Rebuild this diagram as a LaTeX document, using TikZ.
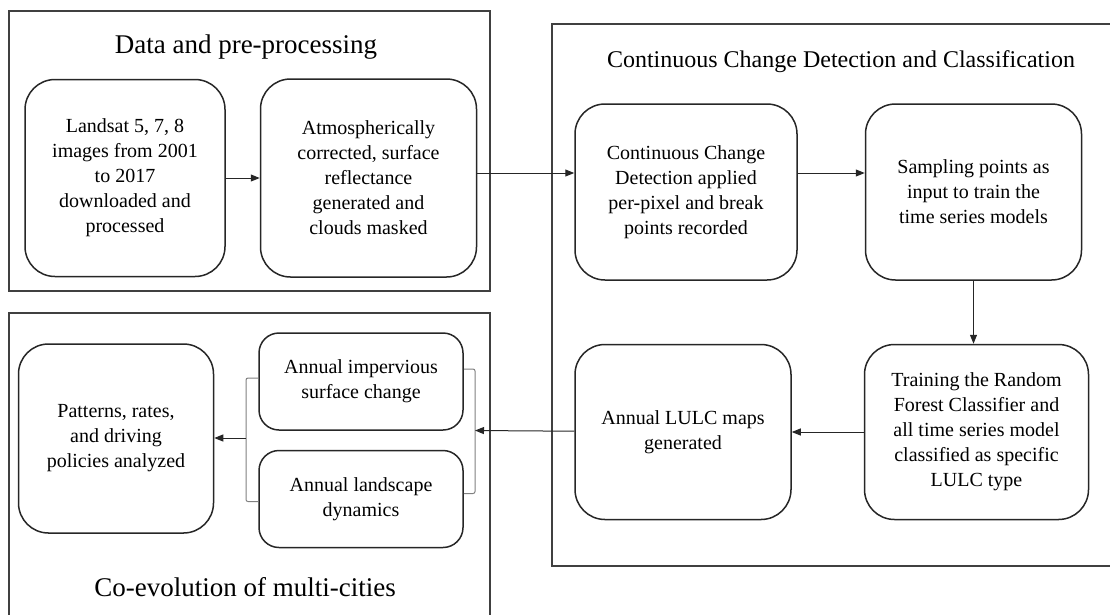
\documentclass[tikz,border=0pt]{standalone}
\usepackage{fontspec}
\setmainfont{Liberation Serif}
\usetikzlibrary{positioning,arrows.meta}

\tikzset{
box/.style={draw=black!85,line width=1.5pt,rounded corners=30pt,align=center,inner sep=0pt,font=\fontsize{20}{25}\selectfont},
sbox/.style={box,rounded corners=20pt},
ttl/.style={font=\fontsize{27}{32}\selectfont},
panel/.style={draw=black!75,line width=1.5pt},
arr/.style={draw=black!85,line width=1pt,-{Triangle[length=9pt,width=7pt]}},
brk/.style={draw=black!50,line width=1pt,rounded corners=2pt}
}

\begin{document}
\begin{tikzpicture}[x=1pt,y=1pt]
\useasboundingbox (0,0) rectangle (1110,-614);

\draw[panel] (9,-11) rectangle (490,-291);
\node[ttl](t1) at (246,-47){Data and pre-processing};
\node[box,minimum width=200pt,minimum height=197pt](land) at (125,-178){Landsat 5, 7, 8\\images from 2001\\to 2017\\downloaded and\\processed};
\node[box,right=34pt of land,minimum width=216pt,minimum height=198pt](atmo){Atmospherically\\corrected, surface\\reflectance\\generated and\\clouds masked};
\path (land) edge[arr] (atmo);

\draw[panel] (1115,-24) -- (552,-24) -- (552,-566) -- (1115,-566);
\node[ttl,font=\fontsize{24}{28}\selectfont](t2) at (841,-62){Continuous Change Detection and Classification};
\node[box,minimum width=222pt,minimum height=176pt](ccd) at (686,-192){Continuous Change\\Detection applied\\per-pixel and break\\points recorded};
\node[box,right=67pt of ccd,minimum width=216pt,minimum height=176pt](samp){Sampling points as\\input to train the\\time series models};
\node[box,below=63pt of samp,xshift=3pt,minimum width=224pt,minimum height=175pt](train){Training the Random\\Forest Classifier and\\all time series model\\classified as specific\\LULC type};
\node[box,left=72pt of train,minimum width=216pt,minimum height=175pt](lulc){Annual LULC maps\\generated};
\path ([yshift=19pt]ccd.west -| atmo.east) edge[arr] ([yshift=19pt]ccd.west);
\path ([yshift=19pt]ccd.east) edge[arr] ([yshift=19pt]samp.west);
\path (samp.south) edge[arr] (samp.south |- train.north);
\path (train) edge[arr] (lulc);

\draw[panel] (9,-620) -- (9,-313) -- (490,-313) -- (490,-620);
\node[ttl](t3) at (245,-587){Co-evolution of multi-cities};
\node[box,minimum width=195pt,minimum height=189pt](pat) at (116,-438.5){Patterns, rates,\\and driving\\policies analyzed};
\node[sbox,minimum width=204pt,minimum height=97pt](imp) at (361,-381.5){Annual impervious\\surface change};
\node[sbox,below=19pt of imp,minimum width=204pt,minimum height=97pt](dyn){Annual landscape\\dynamics};
\coordinate (lb) at (246,-438);
\coordinate (rb) at (475,-430.5);
\draw[brk] ([yshift=3.5pt]imp.west) -| (lb) |- ([yshift=-2.5pt]dyn.west);
\draw[brk] ([yshift=12.5pt]imp.east) -| (rb) |- ([yshift=5.5pt]dyn.east);
\path (lb) edge[arr] (lb -| pat.east);
\path (lulc) edge[arr] (rb);

\end{tikzpicture}
\end{document}
